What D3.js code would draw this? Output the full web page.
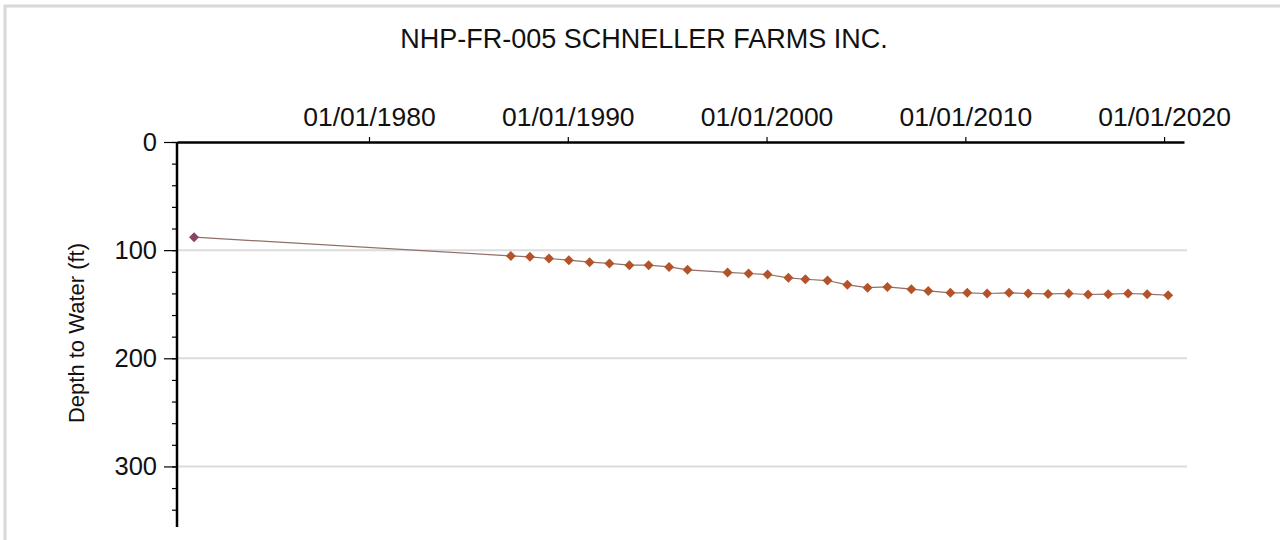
<!DOCTYPE html>
<html>
<head>
<meta charset="utf-8">
<script src="https://cdn.jsdelivr.net/npm/d3@7"></script>
<style>
  html, body { margin: 0; padding: 0; background: #fff; }
  svg { display: block; font-family: "Liberation Sans", Arial, sans-serif; }
</style>
</head>
<body>
<svg id="chart" width="1280" height="540"></svg>
<script>
const title = "NHP-FR-005 SCHNELLER FARMS INC.";
const yLabel = "Depth to Water (ft)";

const dates = [
  "1971-03-15",
  "1987-02-20", "1988-02-05", "1989-01-20", "1990-01-20", "1991-02-05",
  "1992-02-05", "1993-02-05", "1994-01-25", "1995-02-05", "1996-01-10",
  "1998-01-15", "1999-02-05", "2000-01-20", "2001-02-05", "2001-12-15",
  "2003-01-25", "2004-01-25", "2005-01-30", "2006-01-30", "2007-04-15",
  "2008-02-20", "2009-04-01", "2010-02-05", "2011-02-05", "2012-03-15",
  "2013-03-01", "2014-03-01", "2015-03-15", "2016-03-05", "2017-03-10",
  "2018-03-10", "2019-02-25", "2020-03-15"
];
const depths = [
  88,
  105.3, 106.2, 107.7, 109.3, 111.1,
  112.3, 113.9, 113.9, 115.5, 118.2,
  120.6, 121.6, 122.5, 125.6, 126.9,
  128.1, 132.1, 134.7, 134.0, 136.1,
  137.7, 139.5, 139.5, 140.1, 139.5,
  140.1, 140.5, 140.1, 141.0, 140.7,
  140.1, 140.7, 141.7
];
const xTickDates = ["1980-01-01", "1990-01-01", "2000-01-01", "2010-01-01", "2020-01-01"];
const yTicks = [0, 100, 200, 300];
const yGridValues = [100, 200, 300];
const xDomain = ["1970-05-05", "2021-01-01"];
const yDomain = [0, 356];

const parse = d3.utcParse("%Y-%m-%d");
const fmt = d3.utcFormat("%m/%d/%Y");
const data = dates.map((d, i) => ({ date: parse(d), depth: depths[i] }));

const svg = d3.select("#chart");
const pLeft = 177, pRight = 1184, pTop = 142, pBottom = 527;

const x = d3.scaleUtc().domain(xDomain.map(parse)).range([pLeft, pRight]);
const y = d3.scaleLinear().domain(yDomain).range([pTop, pBottom]);

// outer frame (top and left edges visible)
svg.append("path")
  .attr("d", `M5,540 L5,6 L1280,6`)
  .attr("fill", "none").attr("stroke", "#d8d8d8").attr("stroke-width", 3);

// title
svg.append("text")
  .attr("x", 644).attr("y", 48)
  .attr("text-anchor", "middle")
  .attr("font-size", 27).attr("fill", "#111")
  .text(title);

// grid lines
svg.append("g").selectAll("line").data(yGridValues).join("line")
  .attr("x1", pLeft).attr("x2", 1187)
  .attr("y1", d => y(d)).attr("y2", d => y(d))
  .attr("stroke", "#dcdcdc").attr("stroke-width", 2);

// x axis (top)
const xAxis = d3.axisTop(x)
  .tickValues(xTickDates.map(parse))
  .tickFormat(fmt)
  .tickSizeInner(5).tickSizeOuter(0).tickPadding(11);
const gx = svg.append("g").attr("transform", `translate(0,${pTop})`).call(xAxis);
gx.select(".domain").attr("stroke", "#000").attr("stroke-width", 2.5);
gx.selectAll(".tick line").attr("stroke", "#000").attr("stroke-width", 1.2);
gx.selectAll(".tick text").attr("font-size", 26.5).attr("fill", "#111")
  .attr("font-family", "Liberation Sans, Arial, sans-serif");

// y axis minor ticks
const yMinor = d3.axisLeft(y).tickValues(d3.range(0, 356, 20)).tickSize(5).tickFormat("");
const gym = svg.append("g").attr("transform", `translate(${pLeft},0)`).call(yMinor);
gym.select(".domain").remove();
gym.selectAll(".tick line").attr("stroke", "#000").attr("stroke-width", 1.2);

// y axis major
const yAxis = d3.axisLeft(y).tickValues(yTicks).tickSize(13).tickPadding(7);
const gy = svg.append("g").attr("transform", `translate(${pLeft},0)`).call(yAxis);
gy.select(".domain").attr("stroke", "#000").attr("stroke-width", 2.5)
  .attr("d", `M0,${pTop}V${pBottom}`);
gy.selectAll(".tick line").attr("stroke", "#000").attr("stroke-width", 1.2);
gy.selectAll(".tick text").attr("font-size", 25.5).attr("fill", "#111")
  .attr("font-family", "Liberation Sans, Arial, sans-serif");

// y axis title
svg.append("text")
  .attr("transform", `translate(84,333) rotate(-90)`)
  .attr("text-anchor", "middle")
  .attr("font-size", 22).attr("fill", "#111")
  .text(yLabel);

// line
const line = d3.line().x(d => x(d.date)).y(d => y(d.depth));
svg.append("path").datum(data)
  .attr("d", line)
  .attr("fill", "none").attr("stroke", "#8f6f66").attr("stroke-width", 1.2);

// markers
const sym = d3.symbol(d3.symbolSquare, 50);
svg.append("g").selectAll("path").data(data).join("path")
  .attr("d", sym)
  .attr("transform", d => `translate(${x(d.date)},${y(d.depth)}) rotate(45)`)
  .attr("fill", (d, i) => i === 0 ? "#8a4466" : "#b4532a");
</script>
</body>
</html>
